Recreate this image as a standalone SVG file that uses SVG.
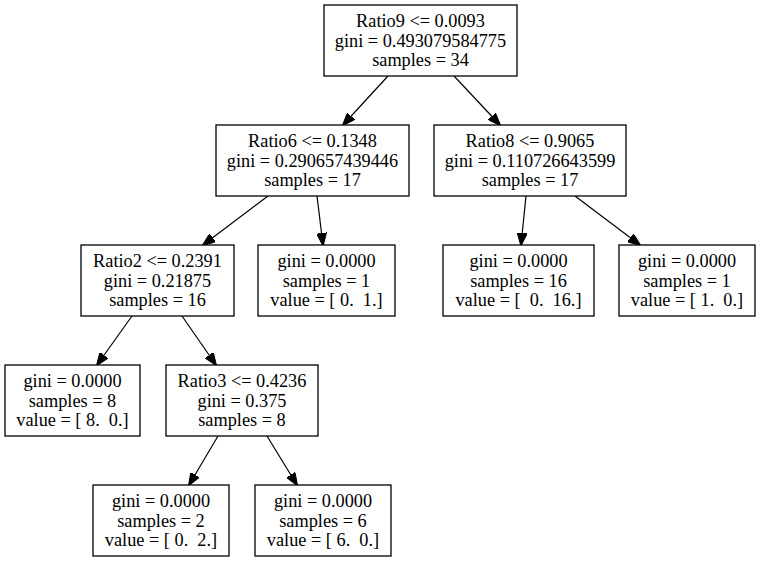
<svg xmlns="http://www.w3.org/2000/svg" width="760" height="563" viewBox="0 0 760 563">
<style>
.box{fill:#fff;stroke:#000;stroke-width:1.3}
.t{font-family:"Liberation Serif","Times New Roman",serif;font-size:18.3px;text-anchor:middle;fill:#000;white-space:pre}
.e{stroke:#000;stroke-width:1.2;fill:none;marker-end:url(#ah)}
</style>
<defs>
<marker id="ah" markerUnits="userSpaceOnUse" viewBox="0 0 13 10" markerWidth="13" markerHeight="10" refX="12" refY="5" orient="auto">
<path d="M0,0 L13,5 L0,10 z" fill="#000" stroke="#000" stroke-width="1"/>
</marker>
</defs>
<rect width="760" height="563" fill="#fff"/>
<g id="edges">
<line class="e" x1="388" y1="76" x2="343" y2="125"/>
<line class="e" x1="454" y1="76" x2="500" y2="125"/>
<line class="e" x1="268" y1="196" x2="203" y2="245"/>
<line class="e" x1="317" y1="196" x2="323" y2="245"/>
<line class="e" x1="526" y1="196" x2="521" y2="245"/>
<line class="e" x1="575" y1="196" x2="640" y2="245"/>
<line class="e" x1="132" y1="316" x2="97" y2="365"/>
<line class="e" x1="182" y1="316" x2="216" y2="365"/>
<line class="e" x1="218" y1="436" x2="189" y2="485"/>
<line class="e" x1="267" y1="436" x2="297" y2="485"/>
</g>
<g id="n0">
<rect class="box" x="324" y="5" width="193" height="71"/>
<text class="t" x="420.5" y="26.5">Ratio9 &lt;= 0.0093</text>
<text class="t" x="420.5" y="46.5">gini = 0.493079584775</text>
<text class="t" x="420.5" y="66">samples = 34</text>
</g>
<g id="n1">
<rect class="box" x="216" y="125" width="193" height="71"/>
<text class="t" x="312.5" y="146.5">Ratio6 &lt;= 0.1348</text>
<text class="t" x="312.5" y="166.5">gini = 0.290657439446</text>
<text class="t" x="312.5" y="186">samples = 17</text>
</g>
<g id="n2">
<rect class="box" x="434" y="125" width="192" height="71"/>
<text class="t" x="530" y="146.5">Ratio8 &lt;= 0.9065</text>
<text class="t" x="530" y="166.5">gini = 0.110726643599</text>
<text class="t" x="530" y="186">samples = 17</text>
</g>
<g id="n3">
<rect class="box" x="81" y="245" width="153" height="71"/>
<text class="t" x="157.5" y="266.5">Ratio2 &lt;= 0.2391</text>
<text class="t" x="157.5" y="286.5">gini = 0.21875</text>
<text class="t" x="157.5" y="306">samples = 16</text>
</g>
<g id="n4">
<rect class="box" x="258" y="245" width="137" height="71"/>
<text class="t" x="326.5" y="266.5">gini = 0.0000</text>
<text class="t" x="326.5" y="286.5">samples = 1</text>
<text class="t" x="326.5" y="306">value = [ 0.  1.]</text>
</g>
<g id="n5">
<rect class="box" x="443" y="245" width="151" height="71"/>
<text class="t" x="518.5" y="266.5">gini = 0.0000</text>
<text class="t" x="518.5" y="286.5">samples = 16</text>
<text class="t" x="518.5" y="306">value = [  0.  16.]</text>
</g>
<g id="n6">
<rect class="box" x="619" y="245" width="136" height="71"/>
<text class="t" x="687" y="266.5">gini = 0.0000</text>
<text class="t" x="687" y="286.5">samples = 1</text>
<text class="t" x="687" y="306">value = [ 1.  0.]</text>
</g>
<g id="n7">
<rect class="box" x="5" y="365" width="135" height="71"/>
<text class="t" x="72.5" y="386.5">gini = 0.0000</text>
<text class="t" x="72.5" y="406.5">samples = 8</text>
<text class="t" x="72.5" y="426">value = [ 8.  0.]</text>
</g>
<g id="n8">
<rect class="box" x="166" y="365" width="152" height="71"/>
<text class="t" x="242" y="386.5">Ratio3 &lt;= 0.4236</text>
<text class="t" x="242" y="406.5">gini = 0.375</text>
<text class="t" x="242" y="426">samples = 8</text>
</g>
<g id="n9">
<rect class="box" x="93" y="485" width="136" height="71"/>
<text class="t" x="161" y="506.5">gini = 0.0000</text>
<text class="t" x="161" y="526.5">samples = 2</text>
<text class="t" x="161" y="546">value = [ 0.  2.]</text>
</g>
<g id="n10">
<rect class="box" x="255" y="485" width="136" height="71"/>
<text class="t" x="323" y="506.5">gini = 0.0000</text>
<text class="t" x="323" y="526.5">samples = 6</text>
<text class="t" x="323" y="546">value = [ 6.  0.]</text>
</g>
</svg>
